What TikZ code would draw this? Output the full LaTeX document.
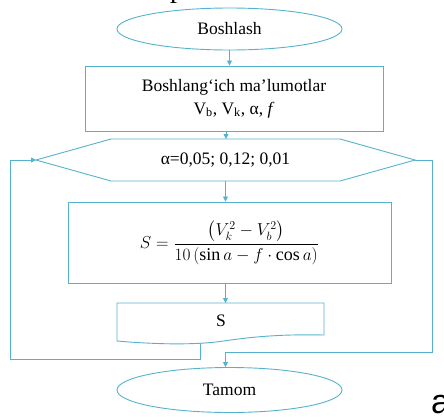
\documentclass[tikz,border=0pt]{standalone}
\usepackage{fontspec}
\usepackage{amsmath}
\setmainfont{Liberation Serif}
\newfontfamily\sansa{Liberation Sans}
\usetikzlibrary{shapes.geometric,arrows.meta,calc}
\definecolor{fc}{RGB}{85,178,204}
\begin{document}
\begin{tikzpicture}[x=1pt,y=-1pt,
  line/.style={draw=fc,line width=0.9pt},
  arr/.style={draw=fc,line width=0.8pt,-{Triangle[length=5pt,width=5pt]}},
  txt/.style={font=\fontsize{17.5}{23}\selectfont,inner sep=0pt}]
\useasboundingbox (0,0) rectangle (444,416);
\clip (0,0) rectangle (444,416);
% cut-off heading letters
\node[anchor=base west,inner sep=0pt,font=\fontsize{28}{30}\selectfont] (ptxt) at (170,-3) {p};
\node[anchor=base west,inner sep=0pt,font=\sansa\fontsize{34}{36}\selectfont] (atxt) at (431,413) {a};
% start
\node[ellipse, line, minimum width=225pt, minimum height=42pt, txt] (start) at (229.5,29) {Boshlash};
% input box
\node[rectangle, line, minimum width=298pt, minimum height=65pt, align=center, txt] (inp) at (234,98.5) {Boshlang‘ich ma’lumotlar\\V\textsubscript{b}, V\textsubscript{k}, α, \textit{f}};
% hexagon
\coordinate (hl) at (36,160);
\coordinate (hr) at (415,160);
\coordinate (htl) at (111,139);
\coordinate (htr) at (340,139);
\coordinate (hbl) at (111,181);
\coordinate (hbr) at (340,181);
\coordinate (htop) at (226,139);
\coordinate (hbot) at (225.5,181);
\draw[line] (hl) -- (htl) -- (htr) -- (hr) -- (hbr) -- (hbl) -- cycle;
\node[txt] (hex) at (225.5,160) {α=0,05; 0,12; 0,01};
% formula box
\node[rectangle, line, minimum width=323pt, minimum height=81pt, txt, font=\fontsize{18}{23}\selectfont] (calc) at (229.5,242.5)
  {$S=\dfrac{\bigl(V_k^2-V_b^2\bigr)}{10\,(\sin a - f\cdot\cos a)}$};
% output (document) shape
\coordinate (stl) at (117,303);
\coordinate (str) at (324,303);
\coordinate (sbr) at (324,335);
\coordinate (smid) at (220,341.5);
\coordinate (sbl) at (117,341);
\coordinate (stop) at (225.5,303);
\coordinate (sfoot) at (200,343.2);
\draw[line] (stl) -- (str) -- (sbr) .. controls (280,334) and (250,337) .. (smid)
  .. controls (185,346) and (140,343) .. (sbl) -- cycle;
\node[txt] (sout) at (221,321) {S};
% end
\node[ellipse, line, minimum width=225pt, minimum height=45pt, txt] (endn) at (229.5,390) {Tamom};
% connectors
\draw[arr] (start.south) -- (start.south |- inp.north);
\draw[arr] (inp.south -| htop) -- (htop);
\draw[arr] (hbot) -- (hbot |- calc.north);
\draw[arr] (calc.south -| stop) -- (stop);
\coordinate (lb) at (10,359);
\coordinate (rb) at (432,352);
\draw[arr] (sfoot) |- (lb) |- (hl);
\draw[arr] (hr) -| (rb) -| (endn.north -| hbot);
\end{tikzpicture}
\end{document}
